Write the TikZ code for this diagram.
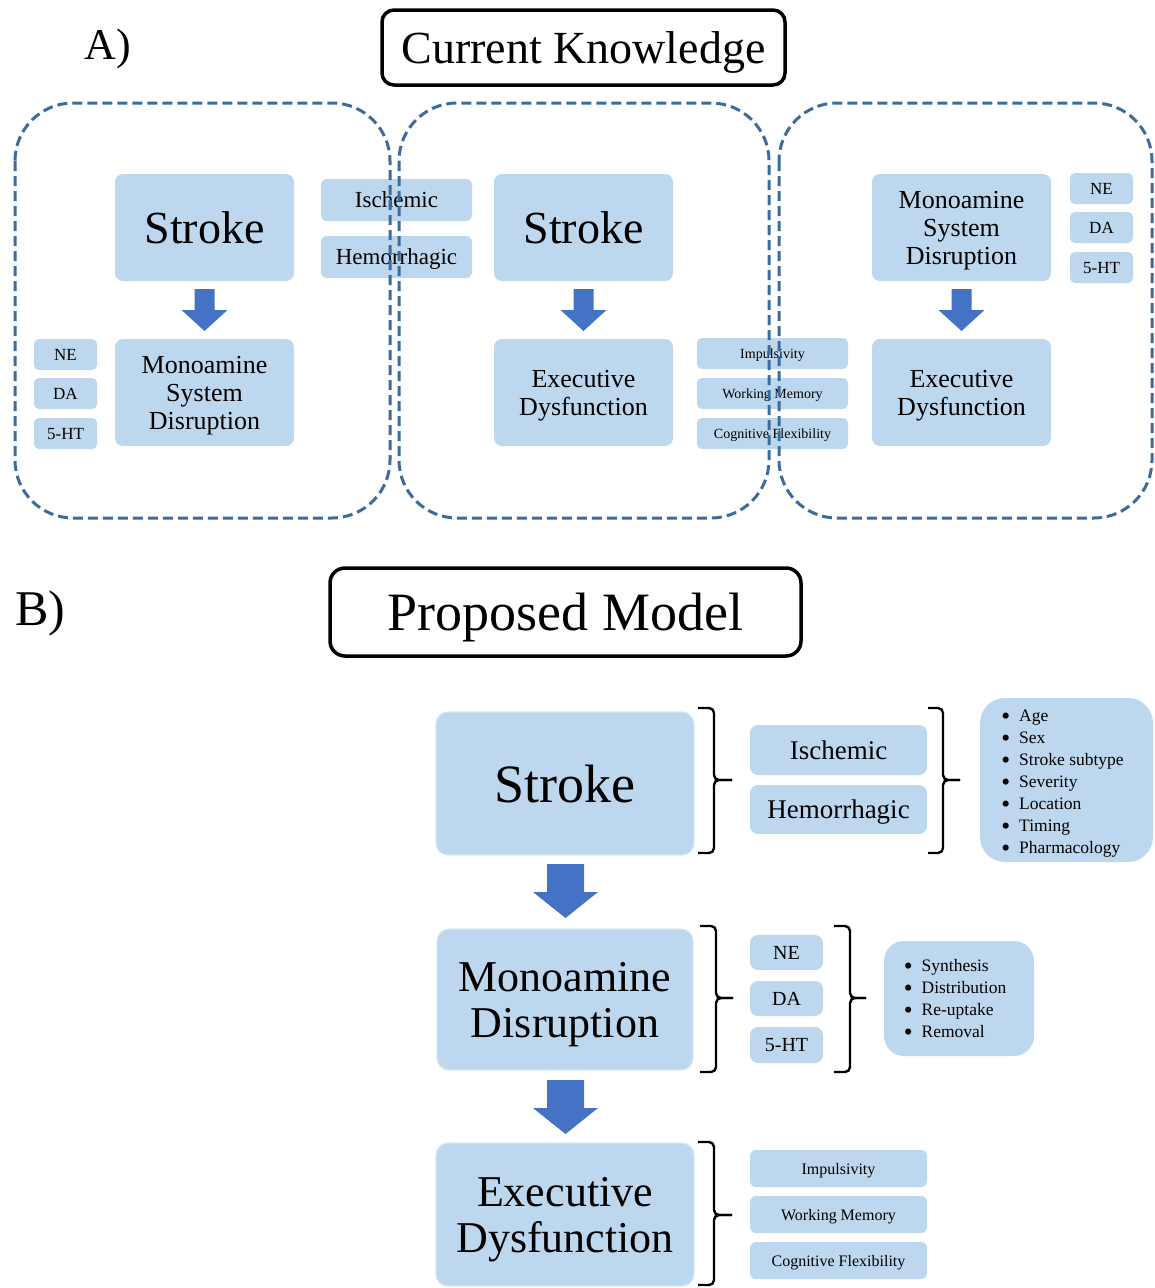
\documentclass[tikz,border=0pt]{standalone}
\usepackage{fontspec}
\setmainfont{Liberation Serif}
\definecolor{boxblue}{HTML}{BDD7EE}
\definecolor{arrowblue}{HTML}{4472C4}
\definecolor{dashblue}{HTML}{3C6C9C}
\newcommand\drawbrace[6]{% x0, xv, tip, top, mid, bot
  \draw[bracestyle] (#1,#4) -- (#2,#4) -- (#2,#5) -- (#3,#5);
  \draw[bracestyle] (#1,#6) -- (#2,#6) -- (#2,#5) -- (#3,#5);}
\newcommand\blockarrow[6]{% cx, top, headstart, tip, shaft half, head half
  \fill[arrowblue] ({#1-#5},#2) -- ({#1+#5},#2) -- ({#1+#5},#3) -- ({#1+#6},#3) -- (#1,#4) -- ({#1-#6},#3) -- ({#1-#5},#3) -- cycle;}
\newcommand\bigbullet{\smash{\raisebox{-0.16em}{\scalebox{1.45}{\textbullet}}}}
\tikzset{
  listbox/.style={rectangle, fill=boxblue, inner sep=0pt, align=center, text=black},
  bluebox/.style={listbox, rounded corners=8pt, text depth=0pt},
  bigbox/.style={bluebox, rounded corners=12pt, draw=boxblue!60!white, line width=1.2pt},
  titlebox/.style={rectangle, rounded corners=12pt, draw=black, line width=3.5pt, inner sep=0pt, align=center, text depth=0pt},
  dashbox/.style={draw=dashblue, line width=3pt, dash pattern=on 10pt off 5pt, rounded corners=58pt},
  bracestyle/.style={draw=black, line width=2.4pt, rounded corners=5pt},
  listtext/.style={inner sep=0pt, align=left, font=\fontsize{17.5}{22}\selectfont},
  fA/.style={font=\fontsize{46}{50}\selectfont},
  fAm/.style={font=\fontsize{26}{28}\selectfont},
  fAs/.style={font=\fontsize{23}{26}\selectfont},
  fAt/.style={font=\fontsize{17}{20}\selectfont},
  fAi/.style={font=\fontsize{14}{16}\selectfont},
  fB/.style={font=\fontsize{44}{46}\selectfont},
}
\begin{document}
\begin{tikzpicture}[x=1pt,y=-1pt]
\useasboundingbox (0,0) rectangle (1155,1288);
% ---------- Part A ----------
\node[font=\fontsize{44}{48}\selectfont] (labA) at (108,49) {A)};
\node[titlebox, minimum width=403pt, minimum height=75pt, font=\fontsize{46}{50}\selectfont] (titleA) at (583.5,47.5) {Current Knowledge};

% panel 1
\node[bluebox, minimum width=179pt, minimum height=107pt, fA] (strokeA1) at (204.5,227.5) {Stroke};
\node[bluebox, minimum width=179pt, minimum height=107pt, fAm] (monoA1) at (204.5,392.5) {Monoamine\\System\\Disruption};
\node[bluebox, rounded corners=5pt, minimum width=63pt, minimum height=31pt, fAt] (neA1) at (65.5,354.5) {NE};
\node[bluebox, rounded corners=5pt, minimum width=63pt, minimum height=31pt, fAt] (daA1) at (65.5,393.5) {DA};
\node[bluebox, rounded corners=5pt, minimum width=63pt, minimum height=31pt, fAt] (htA1) at (65.5,433.5) {5-HT};
\node[bluebox, rounded corners=6pt, minimum width=151pt, minimum height=42pt, fAs] (ischA) at (396.5,200) {Ischemic};
\node[bluebox, rounded corners=6pt, minimum width=151pt, minimum height=42pt, fAs] (hemA) at (396.5,257) {Hemorrhagic};
\blockarrow{204.5}{289}{310}{331}{10}{23}

% panel 2
\node[bluebox, minimum width=179pt, minimum height=107pt, fA] (strokeA2) at (583.5,227.5) {Stroke};
\node[bluebox, minimum width=179pt, minimum height=107pt, fAm] (execA2) at (583.5,392.5) {Executive\\Dysfunction};
\node[bluebox, rounded corners=5pt, minimum width=151pt, minimum height=31pt, fAi] (impA) at (772.5,353.5) {Impulsivity};
\node[bluebox, rounded corners=5pt, minimum width=151pt, minimum height=31pt, fAi] (wmA) at (772.5,393.5) {Working Memory};
\node[bluebox, rounded corners=5pt, minimum width=151pt, minimum height=31pt, fAi] (cfA) at (772.5,433.5) {Cognitive Flexibility};
\blockarrow{583.5}{289}{310}{331}{10}{23}

% panel 3
\node[bluebox, minimum width=179pt, minimum height=107pt, fAm] (monoA3) at (961.5,227.5) {Monoamine\\System\\Disruption};
\node[bluebox, minimum width=179pt, minimum height=107pt, fAm] (execA3) at (961.5,392.5) {Executive\\Dysfunction};
\node[bluebox, rounded corners=5pt, minimum width=63pt, minimum height=31pt, fAt] (neA3) at (1101.5,188.5) {NE};
\node[bluebox, rounded corners=5pt, minimum width=63pt, minimum height=31pt, fAt] (daA3) at (1101.5,227.5) {DA};
\node[bluebox, rounded corners=5pt, minimum width=63pt, minimum height=31pt, fAt] (htA3) at (1101.5,267.5) {5-HT};
\blockarrow{961.5}{289}{310}{331}{10}{23}

% dashed panels (on top)
\draw[dashbox] (15,103) rectangle (390,518);
\draw[dashbox] (399,103) rectangle (769,518);
\draw[dashbox] (779,103) rectangle (1152,518);

% ---------- Part B ----------
\node[font=\fontsize{50}{54}\selectfont] (labB) at (40,613) {B)};
\node[titlebox, rounded corners=15pt, minimum width=471pt, minimum height=88pt, font=\fontsize{54}{58}\selectfont] (titleB) at (565.5,612) {Proposed Model};

\node[bigbox, minimum width=258pt, minimum height=143pt, font=\fontsize{54}{58}\selectfont] (strokeB) at (565,783.5) {Stroke};
\node[bluebox, minimum width=177pt, minimum height=50pt, font=\fontsize{27}{30}\selectfont] (ischB) at (838.5,750) {Ischemic};
\node[bluebox, minimum width=177pt, minimum height=49pt, font=\fontsize{27}{30}\selectfont] (hemB) at (838.5,809.5) {Hemorrhagic};
\node[listbox, rounded corners=25pt, minimum width=173pt, minimum height=164pt] (factors) at (1066.5,780) {};
\node[listtext] (factorsText) at ([xshift=-4pt,yshift=-3pt]factors.center)
  {\begin{tabular}{@{}c@{\hspace{9pt}}l@{}}
   \bigbullet & Age\\ \bigbullet & Sex\\ \bigbullet & Stroke subtype\\ \bigbullet & Severity\\
   \bigbullet & Location\\ \bigbullet & Timing\\ \bigbullet & Pharmacology
   \end{tabular}};
\drawbrace{698}{714}{732}{708}{780}{853}
\drawbrace{928}{943}{960}{708}{780}{853}
\blockarrow{565.5}{864}{892}{918}{18.5}{32.5}

\node[bigbox, minimum width=256pt, minimum height=141pt, fB] (monoB) at (565,999.5) {Monoamine\\Disruption};
\node[bluebox, minimum width=73pt, minimum height=35pt, font=\fontsize{20}{24}\selectfont] (neB) at (786.5,952.5) {NE};
\node[bluebox, minimum width=73pt, minimum height=35pt, font=\fontsize{20}{24}\selectfont] (daB) at (786.5,998.5) {DA};
\node[bluebox, minimum width=73pt, minimum height=36pt, font=\fontsize{20}{24}\selectfont] (htB) at (786.5,1045) {5-HT};
\node[listbox, rounded corners=20pt, minimum width=150pt, minimum height=115pt] (mech) at (959,998.5) {};
\node[listtext] (mechText) at ([xshift=-4pt,yshift=-2pt]mech.center)
  {\begin{tabular}{@{}c@{\hspace{9pt}}l@{}}
   \bigbullet & Synthesis\\ \bigbullet & Distribution\\ \bigbullet & Re-uptake\\ \bigbullet & Removal
   \end{tabular}};
\drawbrace{700}{716}{733}{926}{998}{1072}
\drawbrace{834}{850}{866}{926}{998}{1072}
\blockarrow{565.5}{1080}{1108}{1134}{18.5}{32.5}

\node[bigbox, minimum width=258pt, minimum height=143pt, fB] (execB) at (565,1214.5) {Executive\\Dysfunction};
\node[bluebox, rounded corners=6pt, minimum width=177pt, minimum height=37pt, font=\fontsize{16}{19}\selectfont] (impB) at (838.5,1168.5) {Impulsivity};
\node[bluebox, rounded corners=6pt, minimum width=177pt, minimum height=37pt, font=\fontsize{16}{19}\selectfont] (wmB) at (838.5,1214.5) {Working Memory};
\node[bluebox, rounded corners=6pt, minimum width=177pt, minimum height=37pt, font=\fontsize{16}{19}\selectfont] (cfB) at (838.5,1260.5) {Cognitive Flexibility};
\drawbrace{698}{714}{732}{1142}{1215}{1285}
\end{tikzpicture}
\end{document}
